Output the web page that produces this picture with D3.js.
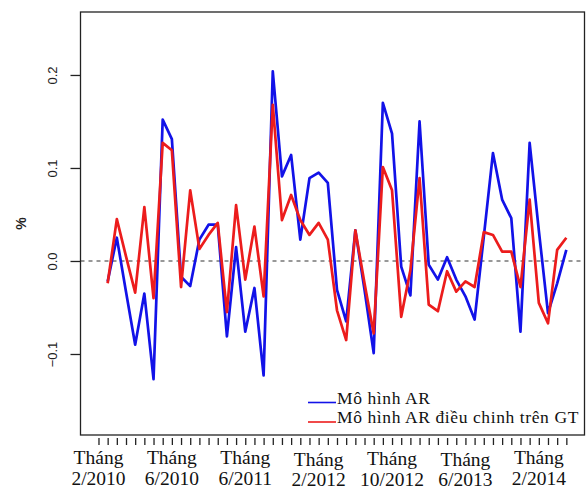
<!DOCTYPE html>
<html>
<head>
<meta charset="utf-8">
<script src="https://cdn.jsdelivr.net/npm/d3@7"></script>
<style>
  html, body { margin: 0; padding: 0; background: #fff; }
  svg { display: block; }
</style>
</head>
<body>
<script>
// ---- data ----
const months = ["2/2010", "6/2010", "6/2011", "2/2012", "10/2012", "6/2013", "2/2014"];
const monthPrefix = "Tháng";
const yTicks = [-0.1, 0.0, 0.1, 0.2];
const seriesNames = ["Mô hình AR", "Mô hình AR điều chinh trên GT"];
const arValues = [
  -0.022, 0.025, -0.033, -0.090, -0.035, -0.127, 0.152, 0.131, -0.017, -0.027,
  0.023, 0.039, 0.039, -0.081, 0.015, -0.076, -0.029, -0.123, 0.204, 0.091,
  0.114, 0.023, 0.089, 0.095, 0.084, -0.031, -0.065, 0.033, -0.031, -0.099,
  0.170, 0.137, -0.006, -0.037, 0.150, -0.004, -0.020, 0.004, -0.020, -0.038,
  -0.063, 0.026, 0.116, 0.066, 0.046, -0.076, 0.127, 0.033, -0.056, -0.024,
  0.012
];
const arGtValues = [
  -0.024, 0.045, 0.005, -0.034, 0.058, -0.040, 0.127, 0.119, -0.028, 0.076,
  0.013, 0.028, 0.041, -0.055, 0.060, -0.020, 0.037, -0.038, 0.168, 0.044,
  0.071, 0.044, 0.028, 0.041, 0.023, -0.053, -0.085, 0.033, -0.024, -0.078,
  0.101, 0.076, -0.060, -0.010, 0.089, -0.047, -0.054, -0.011, -0.033, -0.022,
  -0.028, 0.031, 0.028, 0.010, 0.010, -0.028, 0.066, -0.045, -0.067, 0.012,
  0.025
];

// ---- layout ----
const W = 586, H = 489;
const box = { left: 80.5, right: 584.5, top: 12, bottom: 435 };
const nTicks = arValues.length + 1; // ticks 0..51, data at 1..51
const labelEvery = 8;
const blue = "#1212e8", red = "#ec1c1c";

const svg = d3.select("body").append("svg")
  .attr("width", W).attr("height", H)
  .style("font-family", "'Liberation Serif', 'Times New Roman', serif");

const x = d3.scaleLinear().domain([-1.96, 52.98]).range([box.left, box.right]);
const y = d3.scaleLinear().domain([-0.1871, 0.2677]).range([box.bottom, box.top]);

// zero reference line
svg.append("line")
  .attr("x1", box.left).attr("x2", box.right)
  .attr("y1", y(0)).attr("y2", y(0))
  .attr("stroke", "#333").attr("stroke-width", 1.2)
  .attr("stroke-dasharray", "4,4");

// lines
const line = d3.line().x((d, i) => x(i + 1)).y(d => y(d));
svg.append("path").datum(arValues)
  .attr("d", line).attr("fill", "none")
  .attr("stroke", blue).attr("stroke-width", 2.7).attr("stroke-linejoin", "round");
svg.append("path").datum(arGtValues)
  .attr("d", line).attr("fill", "none")
  .attr("stroke", red).attr("stroke-width", 2.7).attr("stroke-linejoin", "round");

// box
svg.append("rect")
  .attr("x", box.left).attr("y", box.top)
  .attr("width", box.right - box.left).attr("height", box.bottom - box.top)
  .attr("fill", "none").attr("stroke", "#222").attr("stroke-width", 1.3);

// y axis
const yAxis = d3.axisLeft(y).tickValues(yTicks).tickSize(10).tickPadding(0)
  .tickFormat(d => d3.format(".1f")(d).replace("-", "\u2212"));
const gy = svg.append("g").attr("transform", `translate(${box.left},0)`).call(yAxis);
gy.select(".domain").remove();
gy.selectAll(".tick line").attr("stroke", "#222").attr("stroke-width", 1.3);
gy.selectAll(".tick text")
  .attr("x", null).attr("y", null)
  .attr("transform", "translate(-28,0) rotate(-90)")
  .attr("dy", "0.35em")
  .style("text-anchor", "middle")
  .style("font-family", "'Liberation Sans', Arial, sans-serif")
  .style("font-size", "13px")
  .attr("fill", "#222");

svg.append("text")
  .attr("transform", `translate(21,${(box.top + box.bottom) / 2}) rotate(-90)`)
  .attr("text-anchor", "middle").attr("dy", "0.35em")
  .style("font-family", "'Liberation Sans', Arial, sans-serif")
  .style("font-size", "14px").style("font-weight", "bold")
  .attr("fill", "#222")
  .text("%");

// x axis ticks
const xAxis = d3.axisBottom(x).tickValues(d3.range(nTicks)).tickSize(7).tickFormat("");
const gx = svg.append("g").attr("transform", `translate(0,${box.bottom + 3})`).call(xAxis);
gx.select(".domain").remove();
gx.selectAll(".tick line").attr("stroke", "#222").attr("stroke-width", 1.3);

// x labels
const labelOffsets = [0, 0, 0, 1.5, 1, 1.5, 0];
const lab = svg.append("g").selectAll("text").data(months).join("text")
  .attr("x", (d, i) => x(i * labelEvery))
  .attr("y", (d, i) => 464 + labelOffsets[i])
  .attr("text-anchor", "middle")
  .style("font-size", "19.5px")
  .attr("fill", "#111");
lab.append("tspan").attr("x", (d, i) => x(i * labelEvery)).text(monthPrefix);
lab.append("tspan").attr("x", (d, i) => x(i * labelEvery)).attr("dy", 20.5).text(d => d);

// legend
const legend = svg.append("g");
const legendColors = [blue, red];
const legendY = [402.5, 422];
seriesNames.forEach((name, i) => {
  legend.append("line")
    .attr("x1", 308).attr("x2", 336)
    .attr("y1", legendY[i]).attr("y2", legendY[i])
    .attr("stroke", legendColors[i]).attr("stroke-width", 1.6);
  legend.append("text")
    .attr("x", 337).attr("y", legendY[i] + 1)
    .style("font-size", "17.5px")
    .style("letter-spacing", "0.6px")
    .attr("fill", "#111")
    .text(name);
});
</script>
</body>
</html>
